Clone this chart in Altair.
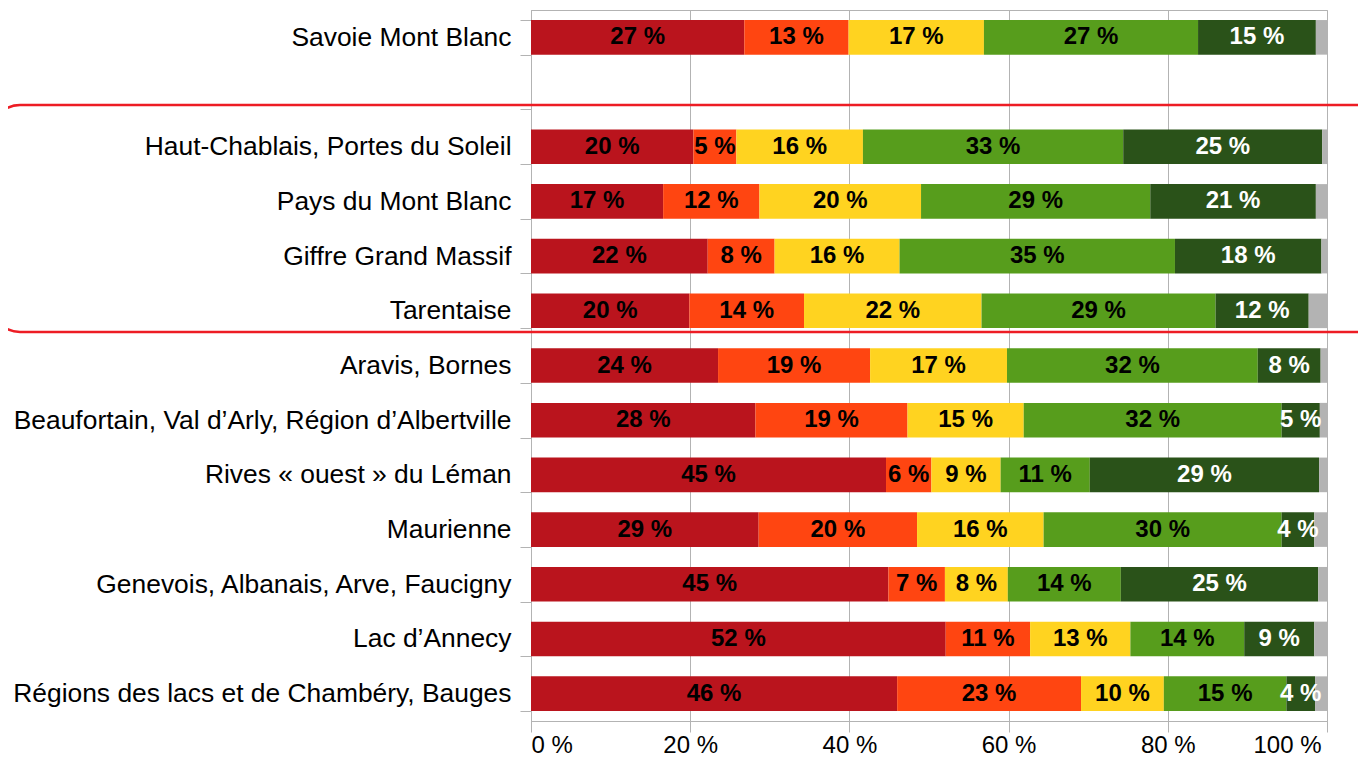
import altair as alt
import pandas as pd

categories = [
    "Savoie Mont Blanc",
    "Haut-Chablais, Portes du Soleil",
    "Pays du Mont Blanc",
    "Giffre Grand Massif",
    "Tarentaise",
    "Aravis, Bornes",
    "Beaufortain, Val d’Arly, Région d’Albertville",
    "Rives «\u00a0ouest\u00a0» du Léman\u00a0",
    "Maurienne",
    "Genevois, Albanais, Arve, Faucigny",
    "Lac d’Annecy",
    "Régions des lacs et de Chambéry, Bauges",
]

segments = ["Catégorie 1", "Catégorie 2", "Catégorie 3", "Catégorie 4", "Catégorie 5", "Autre"]

red = [26.8, 20.4, 16.6, 22.2, 19.9, 23.5, 28.2, 44.6, 28.6, 44.9, 52.1, 46.0]
orange = [13.1, 5.4, 12.1, 8.4, 14.4, 19.1, 19.1, 5.7, 19.9, 7.1, 10.6, 23.1]
yellow = [17.0, 15.9, 20.3, 15.7, 22.3, 17.2, 14.6, 8.7, 15.9, 7.9, 12.6, 10.4]
green = [26.9, 32.7, 28.8, 34.6, 29.4, 31.5, 32.4, 11.2, 29.9, 14.2, 14.3, 15.4]
dark_green = [14.8, 25.0, 20.8, 18.4, 11.7, 7.9, 4.8, 28.8, 4.1, 24.8, 8.8, 3.6]
grey = [1.4, 0.6, 1.4, 0.7, 2.3, 0.8, 0.9, 1.0, 1.6, 1.1, 1.6, 1.5]

x_ticks = [0, 20, 40, 60, 80, 100]

colors = ["#BA141D", "#FF4511", "#FFD320", "#579D1C", "#2A5219", "#B3B3B3"]
GRID = "#B3B3B3"

series = [red, orange, yellow, green, dark_green, grey]
rows = []
for i, c in enumerate(categories):
    for k, s in enumerate(segments):
        rows.append({"cat": c, "seg": s, "order": k, "value": series[k][i]})
df = pd.DataFrame(rows)

y_domain = [categories[0], " "] + categories[1:]

base = alt.Chart(df).transform_stack(
    stack="value",
    groupby=["cat"],
    sort=[alt.SortField("order", order="ascending")],
    as_=["v0", "v1"],
)

x_scale = alt.Scale(domain=[0, 100], nice=False)
y_scale = alt.Scale(domain=y_domain, paddingInner=0.367, paddingOuter=0.1835)

x_axis = alt.Axis(
    values=x_ticks,
    labelExpr="datum.value + ' %'",
    title=None,
    grid=True,
    gridColor=GRID,
    domainColor=GRID,
    tickColor=GRID,
    tickSize=11,
    labelFont="Liberation Sans",
    labelFontSize=24,
    labelColor="black",
    labelPadding=1,
    labelOffset={"condition": {"test": "datum.value == 100", "value": -6}, "value": 0},
)
y_axis = alt.Axis(
    title=None,
    grid=False,
    tickBand="extent",
    domainColor=GRID,
    tickColor=GRID,
    tickSize=11,
    labelFont="Liberation Sans",
    labelFontSize=26.4,
    labelColor="black",
    labelPadding=9,
    labelLimit=800,
)

bars = base.mark_bar().encode(
    x=alt.X("v0:Q", scale=x_scale, axis=x_axis),
    x2="v1:Q",
    y=alt.Y("cat:N", scale=y_scale, axis=y_axis),
    color=alt.Color("seg:N", scale=alt.Scale(domain=segments, range=colors), legend=None),
)

labels = (
    base.transform_filter(alt.datum.order < 5)
    .transform_calculate(
        mid="(datum.v0 + datum.v1) / 2",
        txt="round(datum.value) + ' %'",
    )
    .mark_text(
        font="Liberation Sans",
        fontWeight="bold",
        fontSize=24,
        align="center",
        baseline="middle",
    )
    .encode(
        x=alt.X("mid:Q", scale=x_scale),
        y=alt.Y("cat:N", scale=y_scale),
        text="txt:N",
        color=alt.condition(alt.datum.order == 4, alt.value("white"), alt.value("black")),
    )
)

highlight = (
    alt.Chart(pd.DataFrame({"a": [0]}))
    .mark_rect(filled=False, stroke="#ED1C24", strokeWidth=2.5, cornerRadius=29)
    .encode(
        x=alt.value(-540),
        x2=alt.value(900),
        y=alt.value(95),
        y2=alt.value(322),
    )
)

chart = (
    alt.layer(bars, labels, highlight)
    .properties(
        width=796,
        height=711,
        padding={"left": 523, "top": 2, "right": 31, "bottom": 37},
        autosize=alt.AutoSizeParams(type="none"),
    )
    .configure_view(stroke=GRID)
)

chart.save("out.html", embed_options={"renderer": "svg", "actions": False})
